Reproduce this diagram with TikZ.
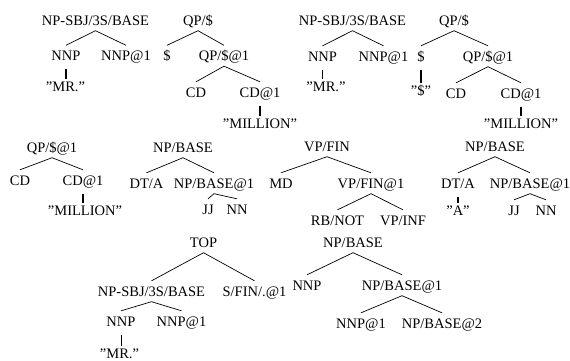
\documentclass[tikz,border=0pt]{standalone}
\usepackage{fontspec}
\setmainfont{Liberation Serif}
\begin{document}
\begin{tikzpicture}[x=1pt,y=-1pt,
  lab/.style={anchor=base, inner xsep=0pt, inner ysep=5pt, text height=10pt, text depth=0.5pt, font=\fontsize{14.5}{17}\selectfont},
  br/.style={line width=0.7pt},
  un/.style={line width=1.5pt, shorten <=3pt, shorten >=-3pt},
  unthin/.style={line width=0.8pt, shorten <=3pt, shorten >=-3pt}]
\useasboundingbox (0,0) rectangle (570,360);
% Tree A
\node[lab] (a0) at (95.5,25) {NP-SBJ/3S/BASE};
\node[lab] (a1) at (66,60.5) {NNP};
\node[lab] (a2) at (126,60.5) {NNP@1};
\node[lab] (a3) at (65.5,91) {''MR.''};
\draw[br] (a0.south) -- (a1.north);
\draw[br] (a0.south) -- (a2.north);
\draw[un] (a1.south) -- (a1.south |- a3.north);
% Tree B
\node[lab] (b0) at (198,25) {QP/\$};
\node[lab] (b1) at (167,60.5) {\$};
\node[lab] (b2) at (224,60.5) {QP/\$@1};
\node[lab] (b3) at (196,97) {CD};
\node[lab] (b4) at (260,97) {CD@1};
\node[lab] (b5) at (260,128) {''MILLION''};
\draw[br] (b0.south) -- (b1.north);
\draw[br] (b0.south) -- (b2.north);
\draw[br] (b2.south) -- (b3.north);
\draw[br] (b2.south) -- (b4.north);
\draw[un] (b4.south) -- (b4.south |- b5.north);
% Tree C
\node[lab] (c0) at (352.5,25) {NP-SBJ/3S/BASE};
\node[lab] (c1) at (322.5,61) {NNP};
\node[lab] (c2) at (383.5,61) {NNP@1};
\node[lab] (c3) at (326,91) {''MR.''};
\draw[br] (c0.south) -- (c1.north);
\draw[br] (c0.south) -- (c2.north);
\draw[un] (c1.south) -- (c1.south |- c3.north);
% Tree D
\node[lab] (d0) at (454,25) {QP/\$};
\node[lab] (d1) at (421,61) {\$};
\node[lab] (d2) at (488,61) {QP/\$@1};
\node[lab] (d3) at (421,95) {''\$''};
\node[lab] (d4) at (456,98) {CD};
\node[lab] (d5) at (521,98) {CD@1};
\node[lab] (d6) at (521,128) {''MILLION''};
\draw[br] (d0.south) -- (d1.north);
\draw[br] (d0.south) -- (d2.north);
\draw[un] (d1.south) -- (d1.south |- d3.north);
\draw[br] (d2.south) -- (d4.north);
\draw[br] (d2.south) -- (d5.north);
\draw[un] (d5.south) -- (d5.south |- d6.north);
% Tree E
\node[lab] (e0) at (52,152) {QP/\$@1};
\node[lab] (e1) at (20,185) {CD};
\node[lab] (e2) at (83,185) {CD@1};
\node[lab] (e3) at (85,215) {''MILLION''};
\draw[br] (e0.south) -- (e1.north);
\draw[br] (e0.south) -- (e2.north);
\draw[un] (e2.south) -- (e2.south |- e3.north);
% Tree F
\node[lab] (f0) at (183,152) {NP/BASE};
\node[lab] (f1) at (146.5,188) {DT/A};
\node[lab] (f2) at (214,188) {NP/BASE@1};
\node[lab] (f3) at (208,214) {JJ};
\node[lab] (f4) at (237,214) {NN};
\draw[br] (f0.south) -- (f1.north);
\draw[br] (f0.south) -- (f2.north);
\draw[br] (f2.south) -- (f3.north);
\draw[br] (f2.south) -- (f4.north);
% Tree G
\node[lab] (g0) at (327,151) {VP/FIN};
\node[lab] (g1) at (281,188) {MD};
\node[lab] (g2) at (371,188) {VP/FIN@1};
\node[lab] (g3) at (337.5,225) {RB/NOT};
\node[lab] (g4) at (403,225) {VP/INF};
\draw[br] (g0.south) -- (g1.north);
\draw[br] (g0.south) -- (g2.north);
\draw[br] (g2.south) -- (g3.north);
\draw[br] (g2.south) -- (g4.north);
% Tree H
\node[lab] (h0) at (495,151) {NP/BASE};
\node[lab] (h1) at (458,188) {DT/A};
\node[lab] (h2) at (530,188) {NP/BASE@1};
\node[lab] (h3) at (458,215) {''A''};
\node[lab] (h4) at (514,215) {JJ};
\node[lab] (h5) at (546,215) {NN};
\draw[br] (h0.south) -- (h1.north);
\draw[br] (h0.south) -- (h2.north);
\draw[un] (h1.south) -- (h1.south |- h3.north);
\draw[br] (h2.south) -- (h4.north);
\draw[br] (h2.south) -- (h5.north);
% Tree I
\node[lab] (i0) at (203.5,247) {TOP};
\node[lab] (i1) at (151.5,296) {NP-SBJ/3S/BASE};
\node[lab] (i2) at (254.5,296) {S/FIN/.@1};
\node[lab] (i3) at (121,326) {NNP};
\node[lab] (i4) at (181.5,326) {NNP@1};
\node[lab] (i5) at (119.5,358) {''MR.''};
\draw[br] (i0.south) -- (i1.north);
\draw[br] (i0.south) -- (i2.north);
\draw[br] (i1.south) -- (i3.north);
\draw[br] (i1.south) -- (i4.north);
\draw[unthin] (i3.south) -- (i3.south |- i5.north);
% Tree J
\node[lab] (j0) at (353,247) {NP/BASE};
\node[lab] (j1) at (307,290) {NNP};
\node[lab] (j2) at (402,290) {NP/BASE@1};
\node[lab] (j3) at (361,328) {NNP@1};
\node[lab] (j4) at (442,328) {NP/BASE@2};
\draw[br] (j0.south) -- (j1.north);
\draw[br] (j0.south) -- (j2.north);
\draw[br] (j2.south) -- (j3.north);
\draw[br] (j2.south) -- (j4.north);
\end{tikzpicture}
\end{document}
